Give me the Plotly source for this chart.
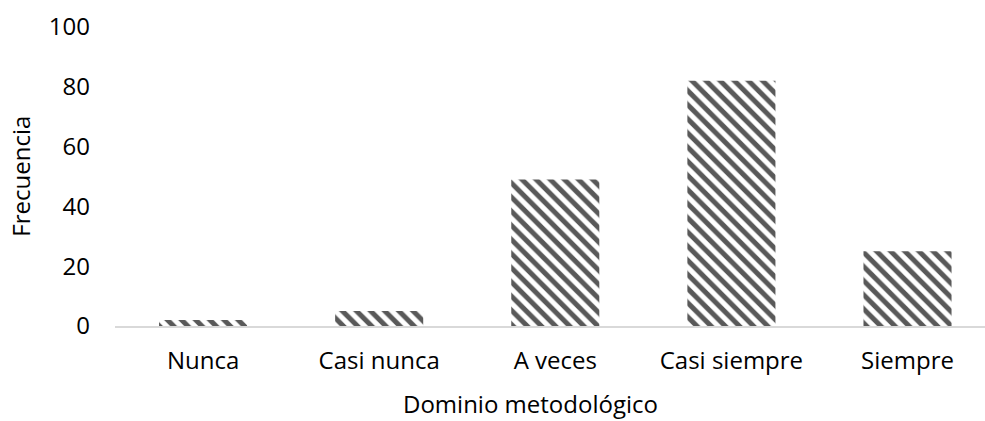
import plotly.graph_objects as go

categories = ["Nunca", "Casi nunca", "A veces", "Casi siempre", "Siempre"]
frecuencia = [2, 5, 49, 82, 25]
y_ticks = [0, 20, 40, 60, 80, 100]

FONT = "Open Sans, Noto Sans, sans-serif"
FS = 24

fig = go.Figure(
    go.Bar(
        x=categories,
        y=frecuencia,
        marker=dict(
            color="white",
            line=dict(width=0),
            pattern=dict(shape="\\", fgcolor="#595959", bgcolor="white",
                         size=10, solidity=0.5, fillmode="replace"),
        ),
        hoverinfo="x+y",
    )
)

fig.update_layout(
    width=985,
    height=421,
    margin=dict(l=115, r=0, t=27, b=95),
    paper_bgcolor="white",
    plot_bgcolor="white",
    bargap=0.5,
    showlegend=False,
    font=dict(family=FONT, size=FS, color="#000000"),
    xaxis=dict(
        range=[-0.5, 4.44],
        showgrid=False,
        showline=True,
        linecolor="#d9d9d9",
        linewidth=2,
        ticks="",
        ticklabelstandoff=12,
        tickfont=dict(family=FONT, size=FS, color="#000000"),
    ),
    yaxis=dict(
        range=[0, 100],
        tickvals=y_ticks,
        showgrid=False,
        zeroline=False,
        showline=False,
        ticks="",
        ticklabelstandoff=24,
        tickfont=dict(family=FONT, size=FS, color="#000000"),
    ),
    annotations=[
        dict(text="Dominio metodológico", xref="paper", yref="paper",
             x=0.478, y=-0.318, xanchor="center", yanchor="bottom",
             borderpad=0, showarrow=False,
             font=dict(family=FONT, size=FS, color="#000000")),
        dict(text="Frecuencia", xref="paper", yref="paper",
             x=-0.109, y=0.5, xanchor="center", yanchor="middle",
             textangle=-90, showarrow=False,
             font=dict(family=FONT, size=FS, color="#000000")),
    ],
)

fig.write_html("out.html")
